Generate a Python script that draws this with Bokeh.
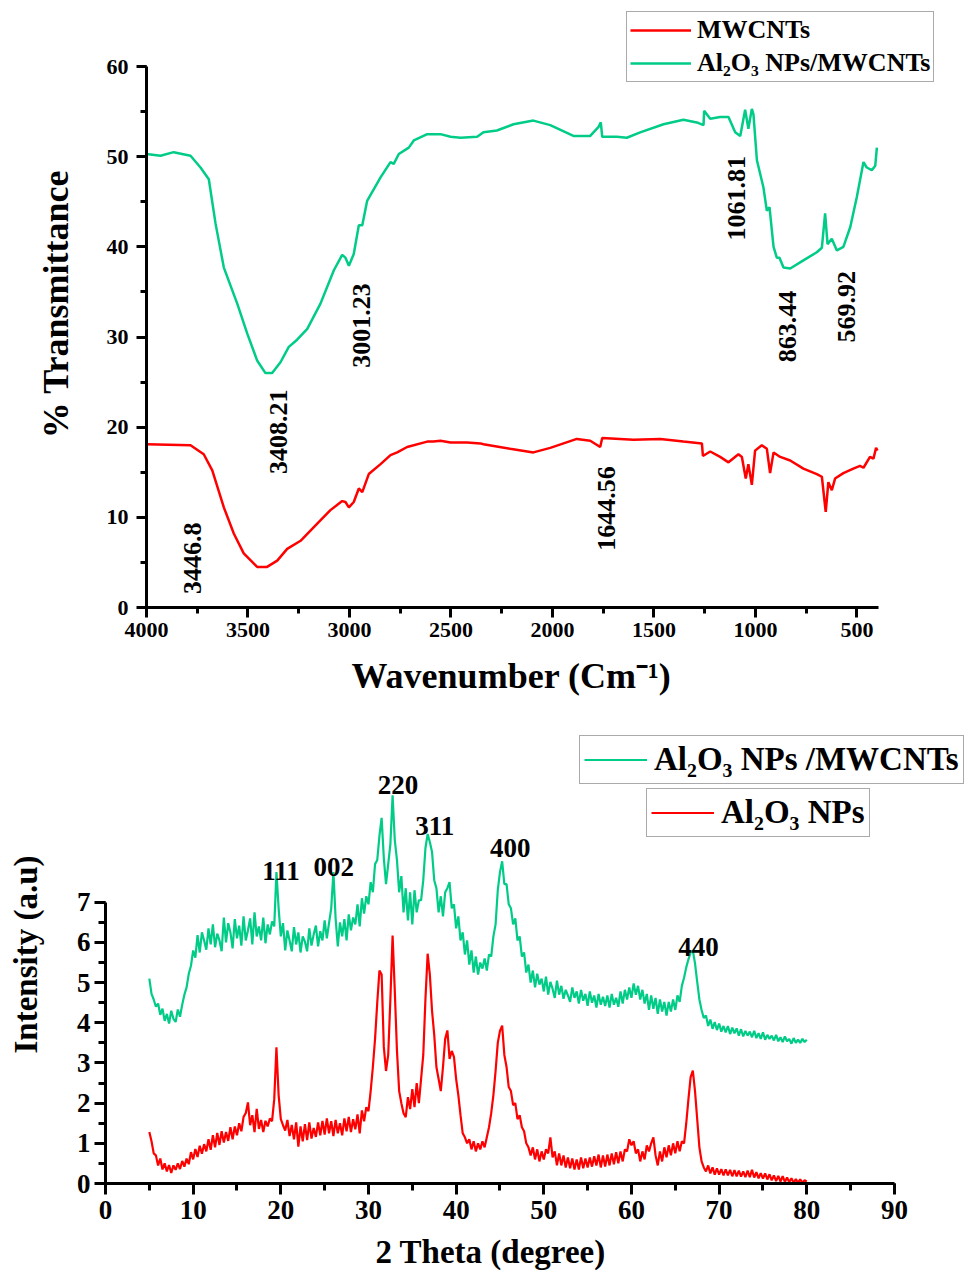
import numpy as np
from bokeh.plotting import figure
from bokeh.models import Range1d, SingleIntervalTicker, Legend, LegendItem
from bokeh.core.properties import value
from bokeh.embed import file_html
from bokeh.resources import INLINE

FONT = "Liberation Serif"
GREEN = "#00CC88"
RED = "#FF0000"
PAD = "\u00a0"

# ---------------- FTIR data ----------------
ftir_mw_wn = [4000, 3783, 3718, 3676, 3619, 3570, 3521, 3455, 3406, 3356, 3307, 3241, 3159, 3094,
              3036, 3020, 3003, 2979, 2954, 2937, 2905, 2847, 2798, 2765, 2716, 2617, 2586, 2552,
              2502, 2420, 2355, 2340, 2209, 2094, 2011, 1880, 1814, 1765, 1755, 1601, 1469, 1355,
              1264, 1259, 1223, 1174, 1133, 1084, 1067, 1048, 1035, 1018, 1002, 969, 944, 928, 911,
              878, 829, 764, 698, 673, 654, 641, 624, 608, 567, 518, 485, 468, 436, 419, 406, 399]
ftir_mw_t = [18.1, 18.0, 17.0, 15.2, 11.1, 8.2, 6.0, 4.5, 4.5, 5.2, 6.5, 7.4, 9.3, 10.8,
             11.8, 11.7, 11.1, 11.7, 13.2, 12.8, 14.8, 15.9, 16.9, 17.2, 17.8, 18.4, 18.4, 18.5,
             18.3, 18.3, 18.2, 18.1, 17.6, 17.2, 17.7, 18.7, 18.5, 17.8, 18.8, 18.6, 18.7, 18.4,
             18.2, 16.8, 17.3, 16.7, 16.1, 17.0, 16.7, 14.3, 15.9, 13.6, 17.4, 18.0, 17.6, 14.9, 17.2,
             16.7, 16.3, 15.4, 14.8, 14.5, 10.6, 13.9, 13.0, 14.3, 14.9, 15.4, 15.7, 15.5, 16.7, 16.5, 17.7, 17.4]

ftir_al_wn = [4000, 3931, 3866, 3783, 3734, 3693, 3660, 3619, 3553, 3504, 3455, 3414, 3381, 3340,
              3299, 3258, 3208, 3143, 3077, 3036, 3020, 3003, 2979, 2954, 2937, 2913, 2847, 2798,
              2782, 2757, 2708, 2683, 2617, 2552, 2502, 2453, 2371, 2340, 2274, 2192, 2094, 2011,
              1897, 1814, 1773, 1762, 1755, 1683, 1634, 1568, 1453, 1355, 1289, 1256, 1253, 1223,
              1174, 1133, 1100, 1075, 1051, 1035, 1018, 1010, 993, 961, 944, 931, 911, 895, 882,
              862, 829, 764, 698, 673, 657, 645, 624, 599, 567, 533, 501, 468, 452, 427, 410, 402]
ftir_al_t = [50.3, 50.1, 50.5, 50.1, 48.8, 47.5, 42.6, 37.7, 33.7, 30.4, 27.4, 26.0, 26.0, 27.2,
             28.9, 29.7, 30.9, 33.7, 37.4, 39.1, 38.8, 37.9, 39.2, 42.4, 42.4, 45.1, 47.7, 49.4,
             49.2, 50.3, 51.0, 51.8, 52.5, 52.5, 52.2, 52.1, 52.2, 52.7, 52.9, 53.6, 54.0, 53.5,
             52.3, 52.3, 53.3, 53.8, 52.2, 52.2, 52.1, 52.7, 53.6, 54.1, 53.8, 53.5, 55.1, 54.2,
             54.4, 54.4, 52.7, 52.3, 55.2, 53.1, 55.3, 54.7, 49.6, 46.6, 44.0, 44.4, 40.0, 38.8, 38.8,
             37.7, 37.6, 38.5, 39.4, 39.9, 43.7, 40.3, 40.9, 39.6, 40.0, 42.2, 45.5, 49.4, 48.8, 48.5, 49.0, 51.0]

ftir_peak_labels = ["3446.8", "3408.21", "3001.23", "1061.81", "863.44", "569.92", "1644.56"]
ftir_peak_x = [3771, 3352, 2942, 1092, 842, 550, 1733]
ftir_peak_y = [1.5, 14.8, 26.6, 40.7, 27.2, 29.4, 6.3]

# ---------------- XRD data (2-theta 5..80, 0.25 deg steps) ----------------
xrd_comp = [
    5.10, 4.72, 4.58, 4.40, 4.48, 4.20, 4.35, 4.05, 4.22, 3.98, 4.30, 4.10,
    4.02, 4.33, 4.15, 4.45, 4.70, 4.88, 5.22, 5.42, 5.80, 5.62, 6.18, 5.75,
    6.25, 6.05, 5.82, 6.35, 5.95, 6.45, 5.88, 6.22, 6.05, 5.78, 6.62, 6.00,
    6.48, 6.25, 5.85, 6.58, 6.10, 6.42, 5.92, 6.65, 6.05, 6.30, 6.60, 5.95,
    6.75, 6.15, 6.40, 6.05, 6.62, 5.98, 6.45, 6.20, 6.52, 6.40, 7.75, 6.85,
    6.15, 6.48, 5.80, 6.30, 6.05, 5.78, 6.38, 5.95, 6.25, 5.75, 6.15, 6.02,
    5.78, 6.35, 5.92, 6.20, 6.42, 5.90, 6.28, 6.05, 6.55, 6.10, 6.48, 6.85,
    7.75, 6.60, 5.90, 6.50, 6.15, 6.58, 6.05, 6.70, 6.30, 6.62, 6.45, 6.95,
    6.40, 7.10, 6.72, 7.15, 6.95, 7.50, 7.25, 7.95, 8.05, 8.65, 9.10, 8.10,
    7.45, 7.95, 8.45, 9.66, 8.55, 8.05, 7.25, 7.65, 6.75, 7.35, 6.55, 7.25,
    6.45, 7.30, 6.75, 7.05, 7.05, 7.55, 8.35, 8.70, 8.50, 8.25, 7.55, 7.35,
    6.75, 7.15, 6.65, 7.25, 7.35, 7.50, 6.85, 6.95, 6.35, 6.65, 6.05, 6.25,
    5.70, 6.05, 5.45, 5.80, 5.25, 5.65, 5.20, 5.50, 5.35, 5.60, 5.30, 5.70,
    5.65, 6.15, 6.45, 7.30, 7.75, 8.02, 7.45, 7.45, 6.95, 6.85, 6.45, 6.60,
    6.05, 6.15, 5.65, 5.75, 5.25, 5.45, 5.00, 5.30, 4.88, 5.22, 4.95, 5.10,
    4.78, 5.15, 4.70, 5.02, 4.85, 4.62, 5.05, 4.70, 4.92, 4.60, 4.82, 4.68,
    4.52, 4.88, 4.62, 4.78, 4.48, 4.82, 4.55, 4.72, 4.42, 4.78, 4.50, 4.68,
    4.38, 4.72, 4.45, 4.65, 4.42, 4.68, 4.38, 4.72, 4.45, 4.62, 4.40, 4.78,
    4.48, 4.82, 4.58, 4.88, 4.62, 4.98, 4.70, 4.92, 4.58, 4.82, 4.48, 4.72,
    4.32, 4.68, 4.35, 4.62, 4.22, 4.58, 4.28, 4.52, 4.18, 4.52, 4.28, 4.58,
    4.32, 4.68, 4.52, 4.92, 5.12, 5.38, 5.58, 5.75, 5.80, 5.48, 5.02, 4.58,
    4.32, 4.12, 4.18, 3.92, 4.08, 3.85, 4.02, 3.82, 3.98, 3.78, 3.92, 3.76,
    3.92, 3.72, 3.88, 3.74, 3.86, 3.68, 3.84, 3.66, 3.80, 3.68, 3.78, 3.64,
    3.80, 3.62, 3.74, 3.60, 3.76, 3.58, 3.70, 3.60, 3.68, 3.56, 3.70, 3.54,
    3.64, 3.52, 3.66, 3.54, 3.60, 3.48, 3.62, 3.50, 3.58, 3.50, 3.60, 3.52,
    3.58]
xrd_al = [
    1.28, 1.05, 0.75, 0.70, 0.45, 0.62, 0.35, 0.50, 0.30, 0.46, 0.26, 0.45,
    0.34, 0.50, 0.36, 0.56, 0.42, 0.62, 0.48, 0.78, 0.60, 0.86, 0.66, 0.94,
    0.74, 0.98, 0.80, 1.10, 0.84, 1.20, 0.90, 1.26, 0.96, 1.30, 1.02, 1.28,
    1.06, 1.40, 1.10, 1.42, 1.20, 1.50, 1.30, 1.66, 1.75, 2.02, 1.45, 1.70,
    1.28, 1.86, 1.36, 1.58, 1.28, 1.56, 1.42, 1.62, 1.55, 2.10, 3.39, 2.20,
    1.60, 1.45, 1.32, 1.58, 1.18, 1.46, 1.10, 1.52, 0.92, 1.42, 1.05, 1.48,
    1.08, 1.52, 1.12, 1.38, 1.16, 1.52, 1.20, 1.56, 1.22, 1.62, 1.25, 1.55,
    1.18, 1.58, 1.25, 1.50, 1.20, 1.62, 1.30, 1.66, 1.28, 1.60, 1.35, 1.72,
    1.25, 1.82, 1.55, 1.90, 1.80, 2.30, 2.90, 3.60, 4.50, 5.30, 5.20, 3.40,
    2.80, 3.20, 4.60, 6.17, 4.80, 3.30, 2.30, 2.00, 1.75, 1.65, 2.15, 1.85,
    2.35, 1.90, 2.50, 2.00, 2.60, 3.20, 4.60, 5.72, 5.20, 4.30, 3.70, 2.90,
    2.60, 2.30, 2.90, 3.60, 3.81, 3.10, 3.30, 3.15, 2.60, 2.20, 1.70, 1.25,
    1.15, 1.00, 1.10, 0.85, 1.05, 0.80, 1.00, 0.85, 1.05, 0.90, 1.15, 1.40,
    1.75, 2.20, 2.80, 3.50, 3.80, 3.93, 3.20, 2.90, 2.40, 2.30, 1.95, 2.00,
    1.60, 1.70, 1.40, 1.30, 1.00, 0.90, 0.70, 0.90, 0.60, 0.85, 0.55, 0.80,
    0.60, 0.85, 0.75, 1.15, 0.65, 0.80, 0.45, 0.75, 0.45, 0.70, 0.40, 0.65,
    0.38, 0.62, 0.35, 0.60, 0.35, 0.65, 0.38, 0.62, 0.40, 0.65, 0.42, 0.68,
    0.45, 0.72, 0.40, 0.70, 0.42, 0.72, 0.45, 0.75, 0.48, 0.78, 0.50, 0.80,
    0.55, 0.85, 0.80, 1.10, 0.95, 1.05, 0.75, 0.85, 0.55, 0.80, 0.60, 0.95,
    0.80, 1.00, 1.15, 0.70, 0.45, 0.80, 0.55, 0.90, 0.65, 0.95, 0.70, 1.00,
    0.75, 1.05, 0.80, 1.05, 1.00, 1.50, 2.10, 2.65, 2.81, 2.30, 1.60, 0.90,
    0.55, 0.40, 0.30, 0.45, 0.25, 0.40, 0.22, 0.38, 0.22, 0.36, 0.20, 0.35,
    0.20, 0.34, 0.18, 0.33, 0.18, 0.32, 0.17, 0.30, 0.16, 0.32, 0.16, 0.34,
    0.15, 0.28, 0.13, 0.26, 0.12, 0.25, 0.10, 0.23, 0.08, 0.20, 0.06, 0.19,
    0.05, 0.18, 0.04, 0.15, 0.03, 0.13, 0.02, 0.11, 0.02, 0.10, 0.02, 0.08,
    0.05]
# evenly spaced 2-theta scan grid for the readings above
xrd_theta = np.linspace(5.0, 80.0, len(xrd_comp))

xrd_peak_labels = ["111", "002", "220", "311", "400", "440"]
xrd_peak_x = [20.03, 26.03, 33.36, 37.55, 46.16, 67.66]
xrd_peak_y = [7.79, 7.87, 9.91, 8.91, 8.36, 5.88]


def style_axis(ax, tick_size, label_size, tick_out, minor_out, standoff, label_standoff):
    ax.axis_line_width = 3
    ax.axis_line_color = "black"
    ax.major_tick_line_width = 3
    ax.minor_tick_line_width = 3
    ax.major_tick_line_color = "black"
    ax.minor_tick_line_color = "black"
    ax.major_tick_in = 0
    ax.major_tick_out = tick_out
    ax.minor_tick_in = 0
    ax.minor_tick_out = minor_out
    ax.major_label_text_font = FONT
    ax.major_label_text_font_style = "bold"
    ax.major_label_text_font_size = f"{tick_size}px"
    ax.major_label_text_color = "black"
    ax.major_label_standoff = standoff
    ax.axis_label_text_font = FONT
    ax.axis_label_text_font_style = "bold"
    ax.axis_label_text_font_size = f"{label_size}px"
    ax.axis_label_text_color = "black"
    ax.axis_label_standoff = label_standoff


def style_legend(leg, size, glyph_w, h, pad, spacing, standoff):
    leg.label_text_font = FONT
    leg.label_text_font_style = "bold"
    leg.label_text_font_size = f"{size}px"
    leg.label_text_color = "black"
    leg.glyph_width = glyph_w
    leg.glyph_height = h
    leg.label_height = h
    leg.label_standoff = standoff
    leg.padding = pad
    leg.spacing = spacing
    leg.margin = 0
    leg.border_line_color = "#555555"
    leg.border_line_width = 1
    leg.background_fill_color = "white"
    leg.background_fill_alpha = 1.0


# ---------------- FTIR figure ----------------
# frame spans the full width/top so the legend is not clipped; axes are bounded
p1 = figure(width=966, height=715, x_range=Range1d(4000, -39.5), y_range=Range1d(0, 67.32),
            output_backend="svg", toolbar_location=None,
            min_border_left=146, min_border_right=0, min_border_top=0, min_border_bottom=108)
p1.outline_line_color = None
p1.xgrid.visible = False
p1.ygrid.visible = False
p1.xaxis.ticker = SingleIntervalTicker(interval=500, num_minor_ticks=2)
p1.yaxis.ticker = SingleIntervalTicker(interval=10, num_minor_ticks=2)
p1.xaxis.bounds = (394, 4000)
p1.yaxis.bounds = (0, 60)
# trailing no-break spaces centre the title under the bounded axis, not the wider frame
p1.xaxis.axis_label = "Wavenumber (Cm⁻¹)" + PAD * 10
p1.yaxis.axis_label = "% Transmittance"
style_axis(p1.xaxis[0], 22, 36, 10, 6, 5, 16)
style_axis(p1.yaxis[0], 22, 36, 10, 6, 8, 28)

r_mw = p1.line(ftir_mw_wn, ftir_mw_t, line_color=RED, line_width=2.5)
r_al = p1.line(ftir_al_wn, ftir_al_t, line_color=GREEN, line_width=2.5)
p1.text(x=ftir_peak_x, y=ftir_peak_y, text=ftir_peak_labels, angle=np.pi / 2,
        text_font=value(FONT), text_font_style="bold", text_font_size="26px",
        text_align="left", text_baseline="middle", text_color="black")

leg1 = Legend(items=[LegendItem(label="MWCNTs", renderers=[r_mw]),
                     LegendItem(label="Al₂O₃ NPs/MWCNTs", renderers=[r_al])],
              location=(480, 525))
style_legend(leg1, 26, 61, 30, 3, 3, 6)
p1.add_layout(leg1)

# ---------------- XRD figure ----------------
p2 = figure(width=966, height=567, x_range=Range1d(0, 98.22), y_range=Range1d(0, 11.40),
            output_backend="svg", toolbar_location=None,
            min_border_left=105, min_border_right=0, min_border_top=10, min_border_bottom=99)
p2.outline_line_color = None
p2.xgrid.visible = False
p2.ygrid.visible = False
p2.xaxis.ticker = SingleIntervalTicker(interval=10, num_minor_ticks=2)
p2.yaxis.ticker = SingleIntervalTicker(interval=1, num_minor_ticks=2)
p2.xaxis.bounds = (0, 90)
p2.yaxis.bounds = (0, 7)
p2.xaxis.axis_label = "2 Theta (degree)" + PAD * 11
p2.yaxis.axis_label = "Intensity (a.u)"
style_axis(p2.xaxis[0], 27, 33, 11, 7, 6, 12)
style_axis(p2.yaxis[0], 27, 33, 11, 7, 4, 30)

r_comp = p2.line(xrd_theta, xrd_comp, line_color=GREEN, line_width=2.2)
r_alx = p2.line(xrd_theta, xrd_al, line_color=RED, line_width=2.2)
p2.text(x=xrd_peak_x, y=xrd_peak_y, text=xrd_peak_labels,
        text_font=value(FONT), text_font_style="bold", text_font_size="27px",
        text_align="center", text_baseline="alphabetic", text_color="black")

legA = Legend(items=[LegendItem(label="Al₂O₃ NPs /MWCNTs", renderers=[r_comp])], location=(474, 399))
style_legend(legA, 33, 63, 39, 4, 0, 7)
legB = Legend(items=[LegendItem(label="Al₂O₃ NPs", renderers=[r_alx])], location=(541, 346))
style_legend(legB, 33, 63, 39, 4, 0, 7)
p2.add_layout(legA)
p2.add_layout(legB)

open("out.html", "w").write(file_html([p1, p2], INLINE))
